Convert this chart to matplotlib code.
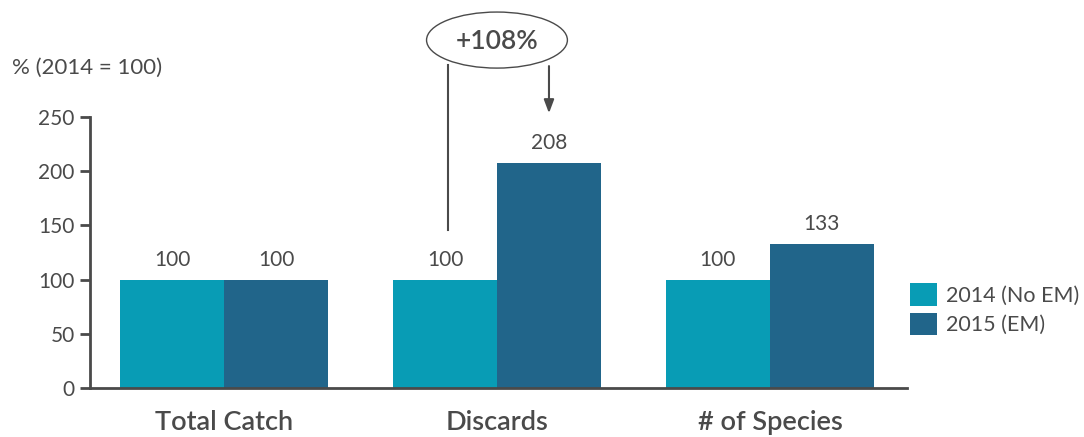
import matplotlib
matplotlib.use("Agg")
import matplotlib.pyplot as plt
from matplotlib.patches import Ellipse
import numpy as np

categories = ["Total Catch", "Discards", "# of Species"]
series_names = ["2014 (No EM)", "2015 (EM)"]
values_2014 = [100, 100, 100]
values_2015 = [100, 208, 133]
yticks = [0, 50, 100, 150, 200, 250]
annotation_text = "+108%"
ylabel_text = "% (2014 = 100)"

c2014 = "#089cb5"
c2015 = "#21658a"
tc = "#4a4a4a"

plt.rcParams['font.family'] = ['Lato', 'DejaVu Sans']

fig = plt.figure(figsize=(10.84, 4.37), dpi=100)
ax = fig.add_axes([0.0830, 0.1121, 0.7537, 0.6201])

x = np.arange(len(categories))
w = 0.381
b1 = ax.bar(x - w/2, values_2014, w, color=c2014, label=series_names[0])
b2 = ax.bar(x + w/2, values_2015, w, color=c2015, label=series_names[1])

for bars, vals in ((b1, values_2014), (b2, values_2015)):
    for r, v in zip(bars, vals):
        ax.annotate(str(v), (r.get_x() + r.get_width()/2, v), xytext=(0, 7),
                    textcoords="offset points", ha="center", va="bottom",
                    fontsize=15, color=tc)

ax.set_xlim(-0.491, 2.502)
ax.set_ylim(0, 250)
ax.set_yticks(yticks)
ax.set_xticks(x)
ax.set_xticklabels(categories, fontsize=19.5, color=tc, fontweight="semibold")
ax.tick_params(axis="x", length=0, pad=16)
ax.tick_params(axis="y", length=7, width=2, color=tc, labelsize=15, labelcolor=tc, pad=4)
for s in ["top", "right"]:
    ax.spines[s].set_visible(False)
for s in ["left", "bottom"]:
    ax.spines[s].set_color(tc)
    ax.spines[s].set_linewidth(2)

fig.text(12/1084, 1 - 68/437, ylabel_text, fontsize=16, color=tc, ha="left", va="center")

# annotation
xl = 0.8205
xr = 1 + w/2
ell = Ellipse((1.0, 321), 0.516, 51.7, facecolor="white", edgecolor=tc,
              linewidth=1, clip_on=False)
ax.add_patch(ell)
ax.text(1.0, 320, annotation_text, ha="center", va="center", fontsize=19,
        color=tc, fontweight="semibold", clip_on=False)
ax.plot([xl, xl], [298, 146], color=tc, lw=1.5, clip_on=False)
ax.annotate("", xy=(xr, 253.5), xytext=(xr, 297),
            arrowprops=dict(arrowstyle="-|>,head_length=0.8,head_width=0.3",
                            color=tc, lw=1.5, shrinkA=0, shrinkB=0),
            annotation_clip=False)

leg = ax.legend(loc="upper left", bbox_to_anchor=(1.0, 0.398), frameon=False,
                fontsize=15.5, labelcolor=tc, handlelength=1.25, handleheight=1.25,
                handletextpad=0.4, labelspacing=0.3, borderaxespad=0.0, borderpad=0.15)

fig.savefig("out.png", dpi=100)
